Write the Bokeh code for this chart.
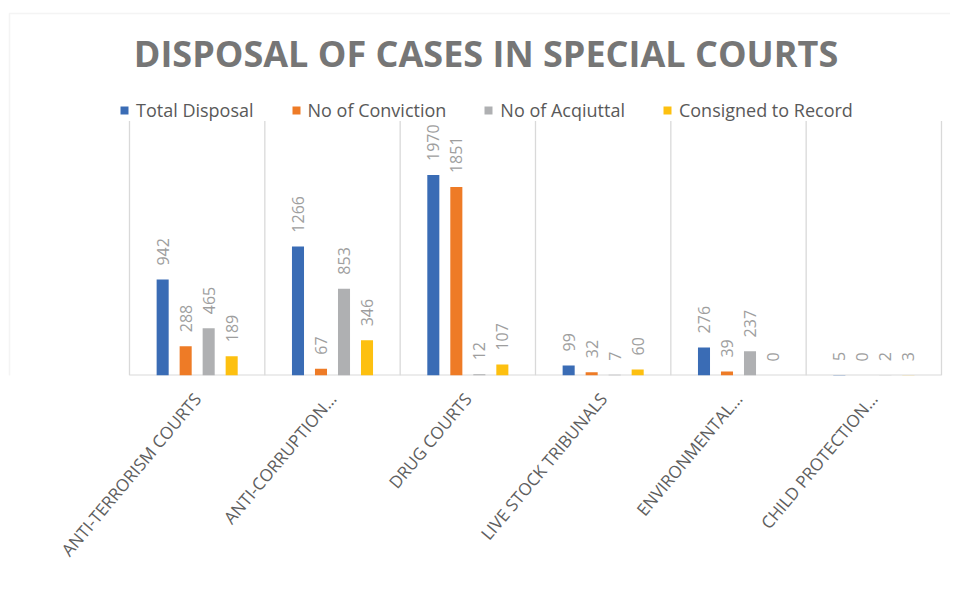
import math
from bokeh.plotting import figure
from bokeh.models import (ColumnDataSource, Range1d, FixedTicker, LabelSet, Legend,
                          LegendItem, Label, BoxAnnotation)
from bokeh.core.properties import value
from bokeh.transform import dodge
from bokeh.embed import file_html
from bokeh.resources import INLINE

categories = ["ANTI-TERRORISM COURTS", "ANTI-CORRUPTION…", "DRUG COURTS",
              "LIVE STOCK TRIBUNALS", "ENVIRONMENTAL…", "CHILD PROTECTION…"]
series_names = ["Total Disposal", "No of Conviction", "No of Acqiuttal", "Consigned to Record"]
total_disposal = [942, 1266, 1970, 99, 276, 5]
no_of_conviction = [288, 67, 1851, 32, 39, 0]
no_of_acquittal = [465, 853, 12, 7, 237, 2]
consigned_to_record = [189, 346, 107, 60, 0, 3]
series_values = [total_disposal, no_of_conviction, no_of_acquittal, consigned_to_record]
colors = ["#3A6CB5", "#EE7B26", "#AFB0B2", "#FDC010"]
y_max = 2500

FONT = "Open Sans"
n = len(categories)
positions = [i + 0.5 for i in range(n)]
boundaries = list(range(n + 1))

# layout (pixels)
W, H = 950, 600
frame_h = 375           # frame bottom = axis baseline
plot_left = 129         # left edge of category area
plot_right = 941
cat_px = (plot_right - plot_left) / n
px_per_unit = 254.5 / y_max

x_start = -plot_left / cat_px
x_end = n + (W - plot_right) / cat_px
y_end = frame_h / px_per_unit

p = figure(width=W, height=H, output_backend="svg", toolbar_location=None,
           x_range=Range1d(x_start, x_end), y_range=Range1d(0, y_end),
           min_border_left=0, min_border_right=0, min_border_top=0,
           min_border_bottom=H - frame_h, title=None)
p.outline_line_color = None
p.yaxis.visible = False
p.ygrid.visible = False
p.xgrid.visible = False

# chart border
border = BoxAnnotation(left=x_start + 9 / cat_px, top=(frame_h - 13) / px_per_unit,
                       right=x_end + 5, bottom=-5000,
                       fill_alpha=0, line_color="#D9D9D9", line_width=1.5,
                       level="underlay")
p.add_layout(border)

# category separators and baseline
p.segment(x0=boundaries, x1=boundaries, y0=[0] * (n + 1), y1=[y_max] * (n + 1),
          line_color="#D9D9D9", line_width=1.3)
p.segment(x0=[0], x1=[n], y0=[0], y1=[0], line_color="#D9D9D9", line_width=2)

offsets = [-0.255, -0.085, 0.085, 0.255]
bar_w = 0.089
items = []
for name, vals, col, off in zip(series_names, series_values, colors, offsets):
    src = ColumnDataSource(dict(x=positions, top=vals, lbl=[str(v) for v in vals]))
    r = p.vbar(x=dodge("x", off), top="top", width=bar_w, source=src,
               fill_color=col, line_color=None)
    items.append(LegendItem(label=name, renderers=[r]))
    labels = LabelSet(x=dodge("x", off), y="top", text="lbl", source=src,
                      angle=math.pi / 2, text_align="left", text_baseline="middle",
                      y_offset=14, text_font=value(FONT), text_font_size=value("16px"),
                      text_color="#9E9E9E")
    p.add_layout(labels)

# x axis (labels only)
p.xaxis.ticker = FixedTicker(ticks=positions)
p.xaxis.major_label_overrides = {pos: c for pos, c in zip(positions, categories)}
p.xaxis.major_label_orientation = math.radians(50)
p.xaxis.major_label_text_font = FONT
p.xaxis.major_label_text_font_size = "17px"
p.xaxis.major_label_text_color = "#5E5E5E"
p.xaxis.major_label_standoff = 14
p.xaxis.major_tick_line_color = None
p.xaxis.minor_tick_line_color = None
p.xaxis.axis_line_color = None

legend = Legend(items=items, orientation="horizontal", location=(119, 253),
                glyph_width=10, glyph_height=10, label_standoff=7, spacing=37,
                padding=0, margin=0, border_line_color=None,
                label_text_font=FONT, label_text_font_size="18px",
                label_text_color="#595959", background_fill_alpha=0)
p.add_layout(legend, "center")

title = Label(x=x_start + 485.5 / cat_px, y=(frame_h - 53) / px_per_unit,
              text="DISPOSAL OF CASES IN SPECIAL COURTS",
              text_align="center", text_baseline="middle",
              text_font=FONT, text_font_size="36px", text_font_style="bold",
              text_color="#767676")
p.add_layout(title)

open("out.html", "w").write(file_html(p, INLINE))
